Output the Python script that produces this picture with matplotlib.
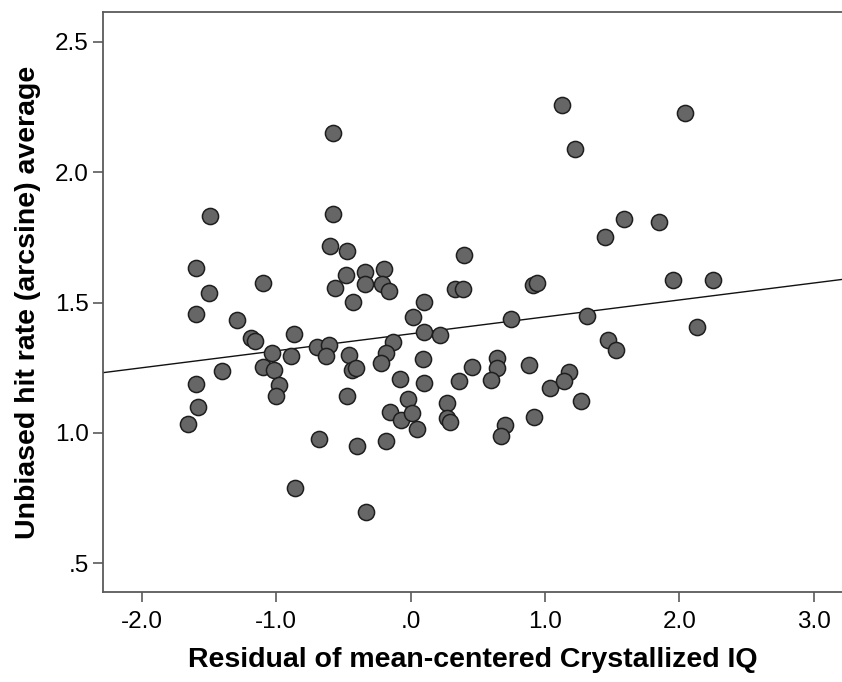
import matplotlib
matplotlib.use("Agg")
import numpy as np
import matplotlib.pyplot as plt
from matplotlib.ticker import FuncFormatter

plt.rcParams['font.family'] = ['Liberation Sans', 'DejaVu Sans']

# residual of mean-centered crystallized IQ
iq_resid = [-0.58, -1.49, -0.58, -0.60, -0.47, -1.60, -0.48, -1.10, -0.56, -1.50,
            -0.43, -1.60, -1.29, -1.19, -1.16, -0.87, -1.03, -0.89, -0.70, -0.61,
            -0.63, -0.46, -1.40, -1.10, -1.02, -1.60, -0.98, -1.00, -1.58, -1.66,
            -0.68, -0.47, -0.40, -0.86, -0.34, -0.20, -0.34, -0.21, -0.16, 0.40,
            0.33, 0.39, 0.10, 0.02, 0.10, 0.22, 0.91, 0.94, 0.75, -0.13,
            -0.18, -0.22, -0.44, -0.41, 0.09, -0.08, 0.10, 0.36, 0.46, 0.64,
            0.64, 0.60, 0.88, 1.04, -0.02, -0.15, -0.07, 0.01, 0.05, 0.27,
            0.27, 0.29, 0.70, 0.67, 0.92, -0.18, -0.33, 1.13, 2.04, 1.22,
            1.59, 1.85, 1.45, 1.95, 2.25, 1.31, 2.13, 1.47, 1.53, 1.18,
            1.14, 1.27]

# unbiased hit rate (arcsine) average
hit_rate = [2.152, 1.831, 1.839, 1.717, 1.698, 1.634, 1.604, 1.576, 1.556, 1.537,
            1.504, 1.457, 1.435, 1.364, 1.354, 1.379, 1.306, 1.294, 1.331, 1.339,
            1.297, 1.298, 1.239, 1.252, 1.243, 1.188, 1.182, 1.141, 1.098, 1.034,
            0.977, 1.142, 0.950, 0.788, 1.617, 1.627, 1.572, 1.572, 1.544, 1.681,
            1.553, 1.551, 1.504, 1.444, 1.387, 1.376, 1.566, 1.575, 1.438, 1.348,
            1.308, 1.269, 1.242, 1.248, 1.284, 1.207, 1.192, 1.198, 1.252, 1.287,
            1.248, 1.203, 1.262, 1.171, 1.130, 1.079, 1.051, 1.075, 1.015, 1.113,
            1.057, 1.043, 1.030, 0.989, 1.063, 0.970, 0.695, 2.258, 2.226, 2.089,
            1.822, 1.810, 1.752, 1.588, 1.588, 1.448, 1.406, 1.357, 1.319, 1.234,
            1.198, 1.124]

# fit line
fit_intercept = 1.38
fit_slope = 0.065

x_ticks = [-2.0, -1.0, 0.0, 1.0, 2.0, 3.0]
y_ticks = [0.5, 1.0, 1.5, 2.0, 2.5]


def spss_fmt(v, pos):
    s = "%.1f" % v
    if s.startswith("0."):
        s = s[1:]
    elif s.startswith("-0."):
        s = "-" + s[2:]
    return s


fig = plt.figure(figsize=(8.42, 6.82), dpi=100)
ax = fig.add_axes([103.3 / 842, (682 - 592.3) / 682, (842 - 103.3) / 842, (592.3 - 12.3) / 682])

xlim = (-2.287, 3.21)
ax.set_xlim(*xlim)
ax.set_ylim(0.389, 2.613)

fx = np.array(xlim)
ax.plot(fx, fit_intercept + fit_slope * fx, color='#111111', linewidth=1.0, zorder=2)

ax.scatter(iq_resid, hit_rate, s=135, facecolor='#666666', edgecolor='#1e1e1e',
           linewidth=1.1, zorder=3)

ax.set_xticks(x_ticks)
ax.set_yticks(y_ticks)
ax.xaxis.set_major_formatter(FuncFormatter(spss_fmt))
ax.yaxis.set_major_formatter(FuncFormatter(spss_fmt))

for side in ['left', 'bottom', 'top']:
    ax.spines[side].set_color('#5a5a5a')
    ax.spines[side].set_linewidth(1.3)
ax.spines['right'].set_visible(False)

ax.tick_params(direction='out', length=7.5, width=1.2, color='#5a5a5a',
               labelsize=17.5, pad=3)
ax.tick_params(axis='x', pad=6)

ax.set_xlabel('Residual of mean-centered Crystallized IQ', fontsize=20.5,
              fontweight='bold', labelpad=10)
ax.set_ylabel('Unbiased hit rate (arcsine) average', fontsize=20.5,
              fontweight='bold', labelpad=10)

fig.savefig('out.png', dpi=100)
